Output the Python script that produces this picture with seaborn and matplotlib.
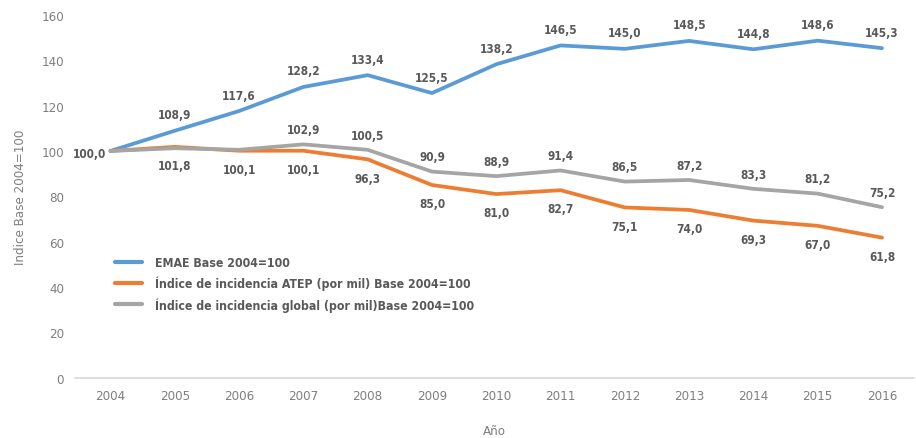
import matplotlib
matplotlib.use("Agg")
import matplotlib.pyplot as plt
import seaborn as sns
import pandas as pd

years = [2004, 2005, 2006, 2007, 2008, 2009, 2010, 2011, 2012, 2013, 2014, 2015, 2016]
emae = [100.0, 108.9, 117.6, 128.2, 133.4, 125.5, 138.2, 146.5, 145.0, 148.5, 144.8, 148.6, 145.3]
atep = [100.0, 101.8, 100.1, 100.1, 96.3, 85.0, 81.0, 82.7, 75.1, 74.0, 69.3, 67.0, 61.8]
glob = [100.0, 101.2, 100.5, 102.9, 100.5, 90.9, 88.9, 91.4, 86.5, 87.2, 83.3, 81.2, 75.2]

names = ["EMAE Base 2004=100",
         "Índice de incidencia ATEP (por mil) Base 2004=100",
         "Índice de incidencia global (por mil)Base 2004=100"]
colors = ["#5B9BD5", "#ED7D31", "#A5A5A5"]

df = pd.DataFrame({
    "Año": years * 3,
    "valor": emae + atep + glob,
    "serie": [names[0]] * 13 + [names[1]] * 13 + [names[2]] * 13,
})

sns.set_theme(style="white")
plt.rcParams["font.family"] = ["DejaVu Sans"]
plt.rcParams["font.stretch"] = "condensed"

fig = plt.figure(figsize=(9.16, 4.39), dpi=100)
ax = fig.add_axes([0.082, 0.137, 0.916, 0.827])

sns.lineplot(data=df, x="Año", y="valor", hue="serie", hue_order=names,
             palette=colors, linewidth=2.7, ax=ax, legend=True)

label_color = "#595959"
lab_kw = dict(fontsize=8.5, fontweight="bold", color=label_color,
              ha="center", fontstretch="condensed")

# EMAE labels above the points (first one to the left)
for i, (x, v) in enumerate(zip(years, emae)):
    txt = f"{v:.1f}".replace(".", ",")
    if i == 0:
        ax.annotate(txt, (x, v), xytext=(-3, -4), textcoords="offset points",
                    **{**lab_kw, "ha": "right"})
    else:
        ax.annotate(txt, (x, v), xytext=(0, 9), textcoords="offset points", **lab_kw)

# ATEP labels below the points
for i, (x, v) in enumerate(zip(years, atep)):
    if i == 0:
        continue
    txt = f"{v:.1f}".replace(".", ",")
    ax.annotate(txt, (x, v), xytext=(0, -16), textcoords="offset points", **lab_kw)

# Global incidence labels above the points
for i, (x, v) in enumerate(zip(years, glob)):
    if i in (0, 1, 2):
        continue
    txt = f"{v:.1f}".replace(".", ",")
    ax.annotate(txt, (x, v), xytext=(0, 8), textcoords="offset points", **lab_kw)

ax.set_xlim(2003.45, 2016.5)
ax.set_ylim(0, 160)
ax.set_yticks(range(0, 161, 20))
ax.set_xticks(years)
ax.set_xticklabels([str(y) for y in years])

tick_color = "#7F7F7F"
ax.tick_params(axis="both", colors=tick_color, labelsize=9.5, length=0, pad=8)
for s in ["top", "right", "left"]:
    ax.spines[s].set_visible(False)
ax.spines["bottom"].set_color("#D9D9D9")
ax.spines["bottom"].set_linewidth(1.2)

ax.set_xlabel("Año", color=tick_color, fontsize=9.5, va="center")
ax.xaxis.set_label_coords(0.5, -0.145)
ax.set_ylabel("Indice Base 2004=100", color=tick_color, fontsize=9.5, labelpad=10)

leg = ax.legend(loc="lower left", bbox_to_anchor=(0.035, 0.152), frameon=False,
                handlelength=2.2, labelspacing=0.55, handletextpad=1.0,
                prop={"weight": "bold", "size": 8.8, "stretch": "condensed"})
for t in leg.get_texts():
    t.set_color(label_color)
for h in leg.get_lines():
    h.set_linewidth(3)

fig.savefig("out.png", dpi=100)
